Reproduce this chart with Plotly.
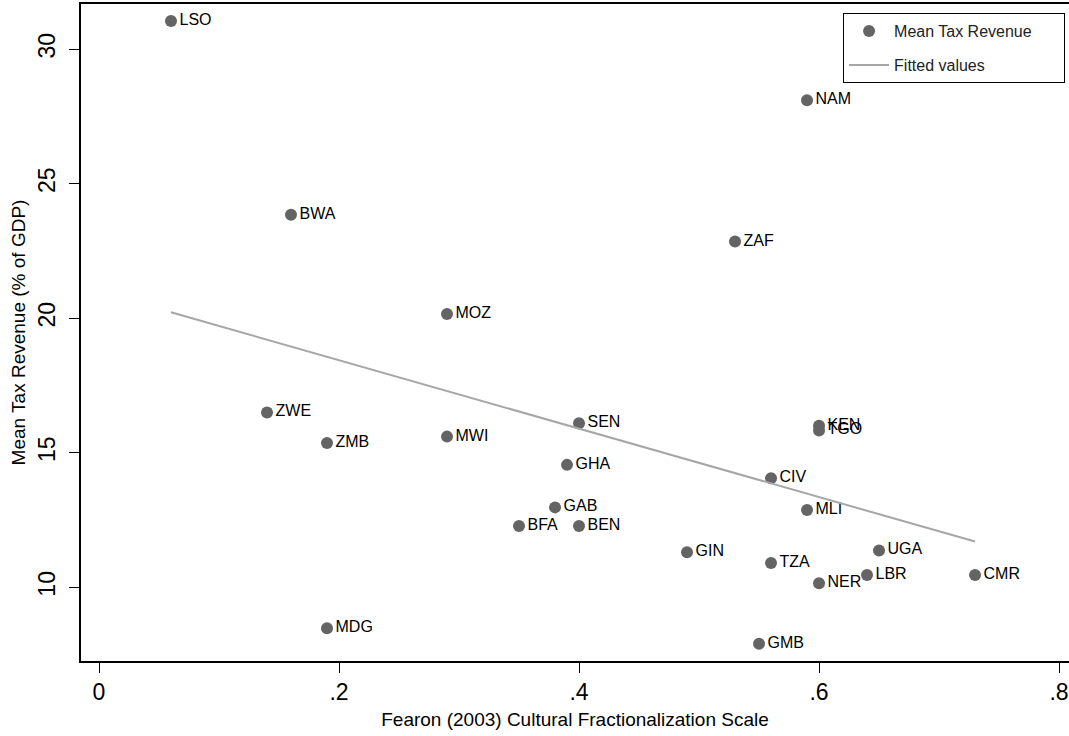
import plotly.graph_objects as go

countries = ["LSO", "NAM", "BWA", "ZAF", "MOZ", "ZWE", "ZMB", "MWI", "SEN", "GHA",
             "KEN", "TGO", "CIV", "GAB", "BFA", "BEN", "MLI", "GIN", "TZA", "UGA",
             "NER", "LBR", "CMR", "MDG", "GMB"]
frac = [0.06, 0.59, 0.16, 0.53, 0.29, 0.14, 0.19, 0.29, 0.40, 0.39,
        0.60, 0.60, 0.56, 0.38, 0.35, 0.40, 0.59, 0.49, 0.56, 0.65,
        0.60, 0.64, 0.73, 0.19, 0.55]
tax = [31.05, 28.1, 23.85, 22.85, 20.16, 16.5, 15.36, 15.6, 16.1, 14.55,
       16.0, 15.83, 14.05, 12.97, 12.28, 12.28, 12.87, 11.3, 10.9, 11.37,
       10.15, 10.46, 10.46, 8.48, 7.9]

fit_x = [0.06, 0.73]
fit_y = [20.22, 11.70]

x_ticks = [0, 0.2, 0.4, 0.6, 0.8]
x_ticklabels = ["0", ".2", ".4", ".6", ".8"]
y_ticks = [10, 15, 20, 25, 30]

FONT = "Liberation Sans, Arial, Helvetica, sans-serif"
PAD = "\u00a0" * 6

fig = go.Figure()
fig.add_trace(go.Scatter(
    x=frac, y=tax, mode="markers+text", name="Mean Tax Revenue" + PAD,
    text=countries, textposition="middle right", legendgroup="pts",
    textfont=dict(family=FONT, size=16, color="black"),
    marker=dict(size=12, color="#646464"),
))
fig.add_trace(go.Scatter(
    x=fit_x, y=fit_y, mode="lines", name="Fitted values", legendgroup="fit",
    line=dict(color="#a6a6a6", width=2),
))

fig.update_layout(
    width=1069, height=736,
    margin=dict(l=81, r=0, t=4, b=75),
    paper_bgcolor="white", plot_bgcolor="white",
    font=dict(family=FONT, color="black"),
    legend=dict(
        x=0.996, y=0.986, xanchor="right", yanchor="top",
        bordercolor="black", borderwidth=1, bgcolor="white",
        font=dict(family=FONT, size=16, color="#222"),
        tracegroupgap=10, itemwidth=40,
    ),
    showlegend=True,
)
fig.update_xaxes(
    range=[-0.015, 0.8083], tickvals=x_ticks, ticktext=x_ticklabels,
    tickfont=dict(size=23), ticks="outside", ticklen=10, tickcolor="black",
    showline=True, linecolor="black", linewidth=1.5, mirror=True,
    showgrid=False, zeroline=False,
    title=dict(text="Fearon (2003) Cultural Fractionalization Scale",
               font=dict(size=19), standoff=8),
)
fig.update_yaxes(
    range=[7.26, 31.68], tickvals=y_ticks, tickangle=-90,
    tickfont=dict(size=23), ticks="outside", ticklen=10, tickcolor="black",
    ticklabelstandoff=5,
    showline=True, linecolor="black", linewidth=1.5,
    showgrid=False, zeroline=False,
    title=dict(text="Mean Tax Revenue (% of GDP)", font=dict(size=19), standoff=3),
)

fig.write_html("out.html", config={"displayModeBar": False},
               post_script="document.body.style.margin='0';")
